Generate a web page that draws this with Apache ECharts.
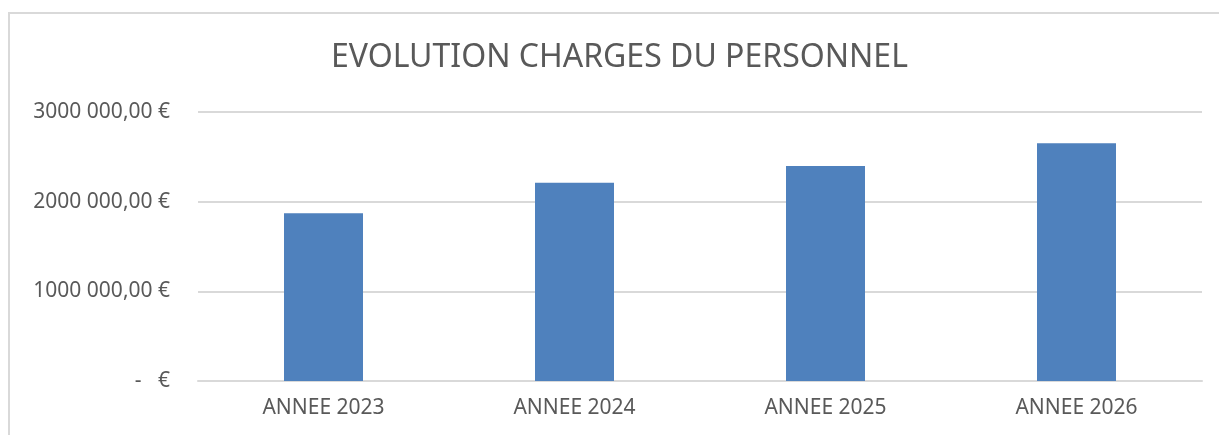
<!DOCTYPE html>
<html>
<head>
<meta charset="utf-8">
<script src="https://cdn.jsdelivr.net/npm/echarts@6/dist/echarts.min.js"></script>
<style>
  html, body { margin: 0; padding: 0; background: #fff; }
  .frame {
    position: absolute; left: 8px; top: 12px; width: 1400px; height: 600px;
    border: 2px solid #d9d9d9; box-sizing: border-box;
  }
  #chart { position: absolute; left: 0; top: 0; width: 1219px; height: 435px; }
</style>
</head>
<body>
<div class="frame"></div>
<div id="chart"></div>
<script>
  // valeurs
  const categories = ['ANNEE 2023', 'ANNEE 2024', 'ANNEE 2025', 'ANNEE 2026']
  const charges = [1870000, 2210000, 2398000, 2651000]
  const yTickValues = [0, 1000000, 2000000, 3000000]
  const yTickLabels = ['-   €', '1000 000,00 €', '2000 000,00 €', '3000 000,00 €']

  const textColor = '#595959'
  const gridColor = '#d9d9d9'

  let chart = echarts.init(document.getElementById('chart'))
  chart.setOption({
    animation: false,
    textStyle: { fontFamily: 'Noto Sans' },
    title: {
      text: 'EVOLUTION CHARGES DU PERSONNEL',
      left: 326,
      top: 37,
      textStyle: { color: textColor, fontSize: 32, fontWeight: 'normal', fontFamily: 'Noto Sans' }
    },
    grid: { left: 198, right: 17, top: 112, bottom: 54 },
    xAxis: {
      type: 'category',
      data: categories,
      axisLine: { lineStyle: { color: gridColor, width: 2 } },
      axisTick: { show: false },
      axisLabel: { color: textColor, fontSize: 21, margin: 17 }
    },
    yAxis: {
      type: 'value',
      min: 0,
      max: 3000000,
      interval: 1000000,
      axisLine: { show: false },
      axisTick: { show: false },
      splitLine: { lineStyle: { color: gridColor, width: 2 } },
      axisLabel: {
        color: textColor,
        fontSize: 21,
        margin: 28,
        formatter: function (v) {
          let i = yTickValues.indexOf(v)
          return i >= 0 ? yTickLabels[i] : ''
        }
      }
    },
    series: [{
      type: 'bar',
      data: charges,
      barWidth: 79,
      itemStyle: { color: '#4f81bd' }
    }]
  })
</script>
</body>
</html>
